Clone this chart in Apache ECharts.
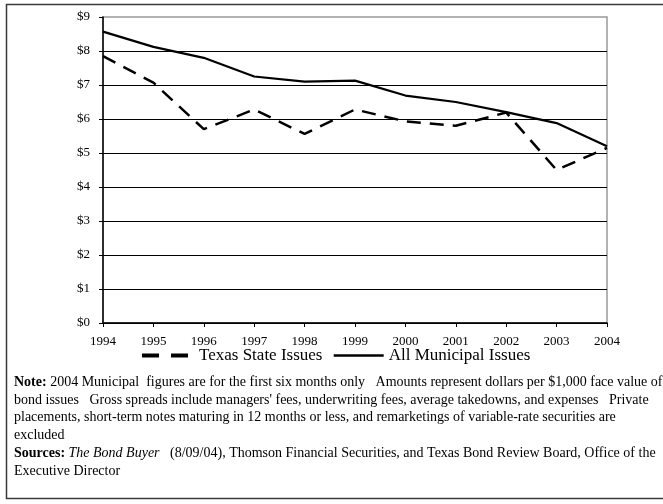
<!DOCTYPE html>
<html>
<head>
<meta charset="utf-8">
<script src="https://cdn.jsdelivr.net/npm/echarts@6/dist/echarts.min.js"></script>
<style>html,body{margin:0;padding:0;background:#fff}#c{width:663px;height:504px}</style>
</head>
<body>
<div id="c"></div>
<script>
const years = ['1994','1995','1996','1997','1998','1999','2000','2001','2002','2003','2004'];
const texasState = [7.85, 7.07, 5.70, 6.28, 5.56, 6.28, 5.93, 5.80, 6.19, 4.50, 5.15];
const allMunicipal = [8.57, 8.12, 7.80, 7.25, 7.10, 7.13, 6.69, 6.50, 6.20, 5.88, 5.20];
const yTicks = [0, 1, 2, 3, 4, 5, 6, 7, 8, 9];
const seriesNames = ['Texas State Issues', 'All Municipal Issues'];

const FONT = '"Liberation Serif", "Times New Roman", serif';
const noteLines = [
  '{b|Note:} 2004 Municipal  figures are for the first six months only   Amounts represent dollars per $1,000 face value of',
  'bond issues   Gross spreads include managers\' fees, underwriting fees, average takedowns, and expenses   Private',
  'placements, short-term notes maturing in 12 months or less, and remarketings of variable-rate securities are',
  'excluded',
  '{b|Sources:} {i|The Bond Buyer}   (8/09/04), Thomson Financial Securities, and Texas Bond Review Board, Office of the',
  'Executive Director'
];
const noteY = [383, 400.5, 418, 435.5, 454, 471.5];

const chart = echarts.init(document.getElementById('c'), null, {renderer: 'canvas'});
const graphics = [
  {type: 'rect', shape: {x: 6.5, y: 4.5, width: 720, height: 494}, style: {fill: 'none', stroke: '#3a3a3a', lineWidth: 1.5}, z: 0, silent: true}
];
noteLines.forEach((t, i) => {
  graphics.push({
    type: 'text', left: 14, top: noteY[i] - 7.5, z: 5,
    style: {
      text: t, fill: '#000', font: '14px ' + FONT,
      rich: {
        b: {fontWeight: 'bold', fontSize: 14, fontFamily: FONT, fill: '#000'},
        i: {fontStyle: 'italic', fontSize: 14, fontFamily: FONT, fill: '#000'}
      }
    }
  });
});

chart.setOption({
  animation: false,
  backgroundColor: '#fff',
  grid: {left: 103, right: 56, top: 17, bottom: 181, show: true, borderColor: '#999', borderWidth: 1.5, backgroundColor: 'transparent'},
  legend: {
    left: 135, top: 342, itemWidth: 50, itemHeight: 14, itemGap: 10,
    itemStyle: {opacity: 0, borderWidth: 0},
    textStyle: {fontFamily: FONT, fontSize: 17, color: '#000'},
    formatter: name => name === seriesNames[0] ? '{a|' + name + '}' : '{b|' + name + '}',
    data: [
      {name: seriesNames[0], lineStyle: {type: [17, 12], width: 4, color: '#000'}, textStyle: {rich: {a: {fontFamily: FONT, fontSize: 17, color: '#000', padding: [0, 0, 0, 2]}}}},
      {name: seriesNames[1], lineStyle: {type: 'solid', width: 2.5, color: '#000'}, textStyle: {rich: {b: {fontFamily: FONT, fontSize: 17, color: '#000', padding: [0, 0, 0, 0]}}}}
    ]
  },
  xAxis: {
    type: 'category', data: years, boundaryGap: false,
    axisLine: {lineStyle: {color: '#000', width: 1.5}},
    axisTick: {show: true, length: 4, lineStyle: {color: '#000'}},
    axisLabel: {fontFamily: FONT, fontSize: 13, color: '#000', margin: 12},
    splitLine: {show: false}
  },
  yAxis: {
    type: 'value', min: 0, max: 9, interval: 1,
    axisLine: {show: true, lineStyle: {color: '#000', width: 1.5}},
    axisTick: {show: true, length: 4, lineStyle: {color: '#000'}},
    axisLabel: {fontFamily: FONT, fontSize: 13, color: '#000', margin: 13, formatter: v => yTicks.includes(v) ? '$' + v : ''},
    splitLine: {show: true, showMaxLine: false, lineStyle: {color: '#000', width: 1}}
  },
  series: [
    {name: seriesNames[0], type: 'line', data: texasState, symbol: 'none', lineStyle: {color: '#000', width: 2.5, type: [14, 9]}, itemStyle: {color: '#000'}, z: 3},
    {name: seriesNames[1], type: 'line', data: allMunicipal, symbol: 'none', lineStyle: {color: '#000', width: 2.2, type: 'solid'}, itemStyle: {color: '#000'}, z: 4}
  ],
  graphic: graphics
});
</script>
</body>
</html>
